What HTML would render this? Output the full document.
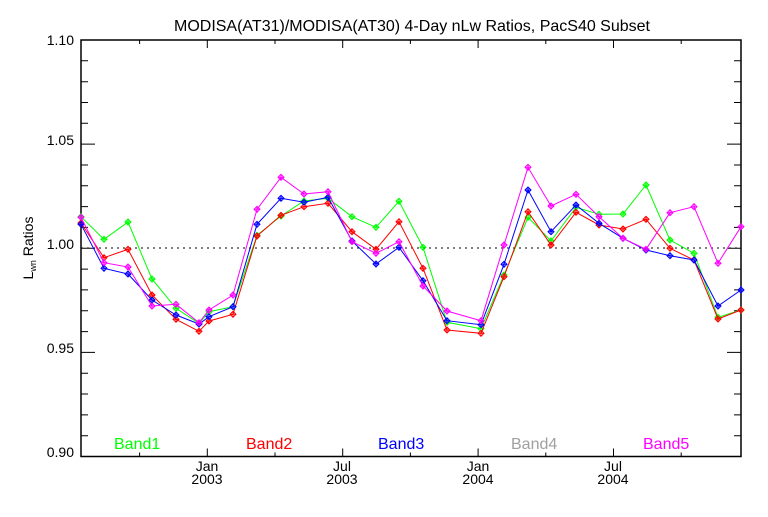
<!DOCTYPE html>
<html><head><style>
html,body{margin:0;padding:0;background:#fff;}
svg text{font-family:"Liberation Sans",sans-serif;}
</style></head><body>
<svg width="768" height="512" xmlns="http://www.w3.org/2000/svg">
<defs>
<marker id="mg" markerUnits="userSpaceOnUse" markerWidth="8" markerHeight="8" refX="4" refY="4" overflow="visible"><path d="M4,1L7,4L4,7L1,4Z M1,4H7 M4,1V7" fill="none" stroke="#00ff00" stroke-width="1"/></marker>
<marker id="mr" markerUnits="userSpaceOnUse" markerWidth="8" markerHeight="8" refX="4" refY="4" overflow="visible"><path d="M4,1L7,4L4,7L1,4Z M1,4H7 M4,1V7" fill="none" stroke="#ff0000" stroke-width="1"/></marker>
<marker id="mb" markerUnits="userSpaceOnUse" markerWidth="8" markerHeight="8" refX="4" refY="4" overflow="visible"><path d="M4,1L7,4L4,7L1,4Z M1,4H7 M4,1V7" fill="none" stroke="#0000ff" stroke-width="1"/></marker>
<marker id="mm" markerUnits="userSpaceOnUse" markerWidth="8" markerHeight="8" refX="4" refY="4" overflow="visible"><path d="M4,1L7,4L4,7L1,4Z M1,4H7 M4,1V7" fill="none" stroke="#ff00ff" stroke-width="1"/></marker>
</defs>
<rect width="768" height="512" fill="#fff"/>
<text x="412" y="31" font-size="16" text-anchor="middle">MODISA(AT31)/MODISA(AT30) 4-Day nLw Ratios, PacS40 Subset</text>
<rect x="81" y="40" width="660" height="416.5" stroke="#000" stroke-width="1.5" fill="none"/>
<path stroke="#000" stroke-width="1" fill="none" d="
M81,40H95 M81,60.8H88 M81,81.7H88 M81,102.5H88 M81,123.3H88 M81,144.1H95 M81,165H88 M81,185.8H88 M81,206.6H88 M81,227.4H88 M81,248.3H95 M81,269.1H88 M81,289.9H88 M81,310.7H88 M81,331.6H88 M81,352.4H95 M81,373.2H88 M81,394H88 M81,414.9H88 M81,435.7H88
M741,40H727 M741,60.8H734 M741,81.7H734 M741,102.5H734 M741,123.3H734 M741,144.1H727 M741,165H734 M741,185.8H734 M741,206.6H734 M741,227.4H734 M741,248.3H727 M741,269.1H734 M741,289.9H734 M741,310.7H734 M741,331.6H734 M741,352.4H727 M741,373.2H734 M741,394H734 M741,414.9H734 M741,435.7H734
M139.6,456.5V452.5 M207.3,456.5V448.5 M275,456.5V452.5 M342.7,456.5V448.5 M410.4,456.5V452.5 M478.1,456.5V448.5 M545.8,456.5V452.5 M613.5,456.5V448.5 M681.2,456.5V452.5
M139.6,40V44 M207.3,40V48 M275,40V44 M342.7,40V48 M410.4,40V44 M478.1,40V48 M545.8,40V44 M613.5,40V48 M681.2,40V44"/>
<line x1="81" y1="248" x2="741" y2="248" stroke="#000" stroke-dasharray="2,4"/>
<g font-size="14" text-anchor="end">
<text x="74" y="457">0.90</text>
<text x="74" y="353">0.95</text>
<text x="74" y="249">1.00</text>
<text x="74" y="145">1.05</text>
<text x="74" y="45">1.10</text>
</g>
<g font-size="14" text-anchor="middle">
<text x="207" y="471">Jan</text><text x="207" y="484">2003</text>
<text x="342" y="471">Jul</text><text x="342" y="484">2003</text>
<text x="478" y="471">Jan</text><text x="478" y="484">2004</text>
<text x="613" y="471">Jul</text><text x="613" y="484">2004</text>
</g>
<text transform="translate(33,248) rotate(-90)" font-size="14" text-anchor="middle">L<tspan font-size="9" dy="3">wn</tspan><tspan dy="-3"> Ratios</tspan></text>
<g font-size="16">
<text x="114" y="449" fill="#00ff00">Band1</text>
<text x="246" y="449" fill="#ff0000">Band2</text>
<text x="378" y="449" fill="#0000ff">Band3</text>
<text x="511" y="449" fill="#a0a0a0">Band4</text>
<text x="643" y="449" fill="#ff00ff">Band5</text>
</g>
<g fill="none" stroke-width="1">
<polyline stroke="#00ff00" marker-start="url(#mg)" marker-mid="url(#mg)" marker-end="url(#mg)" points="81,216.7 104,239.3 128,222 152,279 176,308.3 199,323.3 209,311.7 233,306.7 257,235.3 281,216 304,201 328,198.3 352,216.7 376,227.3 399,201.3 423,247.3 447,322.3 481,328.7 504,275 528,217.3 551,241 576,207.3 599,214.3 623,214 646,185 670,240 694,253.3 718,317.3 741,310"/>
<polyline stroke="#ff0000" marker-start="url(#mr)" marker-mid="url(#mr)" marker-end="url(#mr)" points="81,223 104,257.7 128,249.3 152,295 176,319.3 199,331.3 209,321 233,314.3 257,236 281,215.3 304,206.7 328,203.3 352,231.7 376,249.3 399,221.7 423,268.3 447,330 481,333.3 504,276.7 528,211.7 551,245 576,212.3 599,225 623,229 646,219.3 670,248.3 694,260 718,319 741,310"/>
<polyline stroke="#0000ff" marker-start="url(#mb)" marker-mid="url(#mb)" marker-end="url(#mb)" points="81,224.3 104,268.3 128,274 152,300 176,315 199,324 209,316.7 233,306.7 257,224.3 281,198.3 304,202.3 328,197.3 352,241 376,264 399,247.3 423,280.7 447,320.7 481,324.7 504,264.3 528,190 551,231.7 576,205 599,223.3 623,238.3 646,250 670,255.7 694,260 718,306 741,290"/>
<polyline stroke="#ff00ff" marker-start="url(#mm)" marker-mid="url(#mm)" marker-end="url(#mm)" points="81,217.3 104,262.7 128,267 152,306 176,304.3 199,322.7 209,310 233,295 257,209.3 281,177.3 304,194 328,191.7 352,241.7 376,253.3 399,241.7 423,286 447,311 481,320.7 504,245 528,167.3 551,206 576,194.3 599,216.7 623,238.3 646,249.3 670,212.7 694,206.7 718,263.3 741,226.7"/>
</g>
</svg>
</body></html>
